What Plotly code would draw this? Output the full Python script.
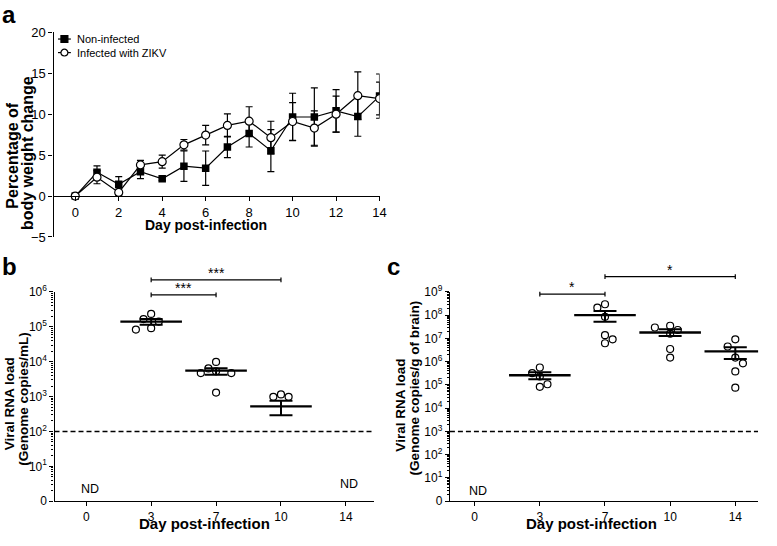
import numpy as np
import plotly.graph_objects as go

W, H = 777, 546
FONT = "Liberation Sans, Arial, sans-serif"

# ---------------- Panel a data: body weight change (mean +/- SEM) ----------------
days_a = list(range(15))
noninf_mean = [0, 2.9, 1.43, 2.97, 2.1, 3.65, 3.4, 5.98, 7.64, 5.54, 9.65, 9.65, 10.4, 9.7, 12.2]
noninf_sem = [0, 0.78, 0.95, 0.85, 0.2, 1.85, 2.1, 1.3, 1.65, 2.56, 2.9, 3.55, 2.6, 2.4, 2.7]
inf_mean = [0, 2.3, 0.44, 3.8, 4.2, 6.25, 7.44, 8.62, 9.14, 7.13, 9.1, 8.3, 10.0, 12.25, 11.9]
inf_sem = [0, 0.8, 0.4, 0.55, 0.8, 0.65, 1.2, 1.4, 1.76, 2.0, 2.3, 2.1, 2.2, 2.9, 2.0]
ticks_a_x = [0, 2, 4, 6, 8, 10, 12, 14]
ticks_a_y = [-5, 0, 5, 10, 15, 20]

# ---------------- Panel b data: serum viral RNA (genome copies/mL) ----------------
days_b = ["0", "3", "7", "10", "14"]
b_points = {
    "3": [2.34e5, 1.66e5, 1.41e5, 9.1e4, 8.3e4],
    "7": [9.8e3, 6.4e3, 5.3e3, 4.7e3, 4.7e3, 1.3e3],
    "10": [1.15e3, 9.8e2, 9.8e2],
}
b_mean = {"3": 1.4e5, "7": 5.5e3, "10": 525}
b_sem_lo = {"3": 1.15e5, "7": 4.2e3, "10": 290}
b_sem_hi = {"3": 1.66e5, "7": 6.5e3, "10": 760}
b_limit = 1e2
b_nd = ["0", "14"]
b_sig = [("3", "7", "***"), ("3", "10", "***")]

# ---------------- Panel c data: brain viral RNA (genome copies/g) ----------------
days_c = ["0", "3", "7", "10", "14"]
c_points = {
    "3": [5.6e5, 3.2e5, 2.3e5, 1.07e5, 8.3e4],
    "7": [2.95e8, 2.1e8, 8.5e7, 1.38e7, 9.1e6, 6.2e6],
    "10": [3.5e7, 2.95e7, 2.3e7, 1.6e7, 3.5e6, 1.5e6],
    "14": [9.1e6, 4.5e6, 1.5e6, 8.5e5, 3.8e5, 7.6e4],
}
c_mean = {"3": 2.6e5, "7": 1.0e8, "10": 1.8e7, "14": 2.75e6}
c_sem_lo = {"3": 1.75e5, "7": 5.2e7, "10": 1.26e7, "14": 1.3e6}
c_sem_hi = {"3": 3.5e5, "7": 1.5e8, "10": 2.5e7, "14": 4.2e6}
c_limit = 1e3
c_nd = ["0"]
c_sig = [("3", "7", "*"), ("7", "14", "*")]


def X(p):
    return p / W


def Y(p):
    return 1 - p / H


# layout geometry (pixels)
A_X = (54, 383); A_Y = (24, 235.3)
B_X = (55, 377); B_Y = (292, 508)
C_X = (454, 765); C_Y = (292, 508)
B_XR = [-0.489, 4.427]
C_XR = [-0.38, 4.35]


def beeswarm(values, px_per_dec, px_per_cat, step=7.7, min_dist=8.0):
    logs = np.log10(values)
    order = np.argsort(-logs, kind="stable")
    placed = []
    offs = np.zeros(len(values))
    for i in order:
        y = logs[i] * px_per_dec
        left = sum(1 for s, _ in placed if s < 0)
        right = sum(1 for s, _ in placed if s > 0)
        cands = [0]
        for k in range(1, 8):
            cands += [-k, k] if left <= right else [k, -k]
        chosen = 0
        for s in cands:
            if all(((s - s2) * step) ** 2 + (y - y2) ** 2 >= min_dist ** 2 for s2, y2 in placed):
                chosen = s
                break
        placed.append((chosen, y))
        offs[i] = chosen * step / px_per_cat
    return offs


fig = go.Figure()

# ---- panel a traces
fig.add_trace(go.Scatter(
    x=days_a, y=noninf_mean, mode="lines+markers", name="Non-infected",
    line=dict(color="black", width=1.2),
    marker=dict(symbol="square", size=7.5, color="black"),
    error_y=dict(type="data", array=noninf_sem, color="black", thickness=1.2, width=3.5),
    xaxis="x", yaxis="y", showlegend=False))
fig.add_trace(go.Scatter(
    x=days_a, y=inf_mean, mode="lines+markers", name="Infected with ZIKV",
    line=dict(color="black", width=1.2),
    marker=dict(symbol="circle", size=8, color="white", line=dict(color="black", width=1.2)),
    error_y=dict(type="data", array=inf_sem, color="black", thickness=1.2, width=3.5),
    xaxis="x", yaxis="y", showlegend=False))


def dot_panel(days, points, mean, lo, hi, limit, xr, xax, yax, pxdec, pxcat):
    idx = {d: i for i, d in enumerate(days)}
    # detection limit
    fig.add_trace(go.Scatter(x=xr, y=[limit, limit], mode="lines",
                             line=dict(color="black", width=1.5, dash="5px,3px"),
                             xaxis=xax, yaxis=yax, showlegend=False, hoverinfo="skip"))
    for d, vals in points.items():
        offs = beeswarm(vals, pxdec, pxcat)
        fig.add_trace(go.Scatter(
            x=[idx[d] + o for o in offs], y=vals, mode="markers",
            marker=dict(symbol="circle", size=7, color="white", line=dict(color="black", width=1.2)),
            xaxis=xax, yaxis=yax, showlegend=False))
    gs = list(mean.keys())
    fig.add_trace(go.Scatter(
        x=[idx[g] for g in gs], y=[mean[g] for g in gs], mode="markers",
        marker=dict(symbol="line-ew", size=44, line=dict(color="black", width=2.3)),
        error_y=dict(type="data", symmetric=False,
                     array=[hi[g] - mean[g] for g in gs],
                     arrayminus=[mean[g] - lo[g] for g in gs],
                     color="black", thickness=2, width=11.5),
        xaxis=xax, yaxis=yax, showlegend=False))


dot_panel(days_b, b_points, b_mean, b_sem_lo, b_sem_hi, b_limit, B_XR, "x2", "y2", 36.0, 65.5)
dot_panel(days_c, c_points, c_mean, c_sem_lo, c_sem_hi, c_limit, C_XR, "x3", "y3", 24.0, 65.75)

axis_common = dict(showline=True, linecolor="black", linewidth=1.3, ticks="outside",
                   ticklen=4, tickwidth=1.2, tickcolor="black", showgrid=False,
                   zeroline=False, tickfont=dict(family=FONT, size=12, color="black"))


def logticks(n):
    vals = [10 ** k for k in range(n + 1)]
    text = ["0"] + ["10<sup>%d</sup>" % k for k in range(1, n + 1)]
    return vals, text


bv, bt = logticks(6)
cv, ct = logticks(9)
minor = dict(ticks="outside", ticklen=2, tickcolor="black", tickwidth=0.8, dtick="D1", showgrid=False)

fig.update_layout(
    width=W, height=H, margin=dict(l=0, r=0, t=0, b=0),
    paper_bgcolor="white", plot_bgcolor="white",
    font=dict(family=FONT, color="black"),
    showlegend=False,
    xaxis=dict(**{**axis_common, "tickfont": dict(family=FONT, size=13, color="black")},
               domain=[X(A_X[0]), X(A_X[1])], range=[-1, 14], anchor="free",
               position=Y(193), tickvals=ticks_a_x),
    yaxis=dict(**{**axis_common, "tickfont": dict(family=FONT, size=13, color="black")},
               domain=[Y(A_Y[1]), Y(A_Y[0])], range=[-5, 20], anchor="x",
               tickvals=ticks_a_y),
    xaxis2=dict(**axis_common, domain=[X(B_X[0]), X(B_X[1])], range=B_XR, anchor="y2",
                tickvals=list(range(len(days_b))), ticktext=days_b),
    yaxis2=dict(**axis_common, type="log", domain=[Y(B_Y[1]), Y(B_Y[0])], range=[0, 6],
                anchor="x2", tickvals=bv, ticktext=bt, minor=minor),
    xaxis3=dict(**axis_common, domain=[X(C_X[0]), X(C_X[1])], range=C_XR, anchor="y3",
                tickvals=list(range(len(days_c))), ticktext=days_c),
    yaxis3=dict(**axis_common, type="log", domain=[Y(C_Y[1]), Y(C_Y[0])], range=[0, 9],
                anchor="x3", tickvals=cv, ticktext=ct, minor=minor),
)

ann = []
shapes = []


def text(x, y, s, size, bold=False, angle=0, xanchor="center", xref="paper"):
    ann.append(dict(x=x if xref != "paper" else X(x), y=Y(y), xref=xref, yref="paper",
                    text=("<b>%s</b>" % s) if bold else s, showarrow=False,
                    textangle=angle, xanchor=xanchor, yanchor="middle",
                    font=dict(family=FONT, size=size, color="black")))


# panel letters
text(0, 6, "a", 24, bold=True, xanchor="left")
text(0, 266, "b", 24, bold=True, xanchor="left")
text(389, 266, "c", 24, bold=True, xanchor="left")

# axis titles
text(12.5, 151, "Percentage of", 16, bold=True, angle=-90)
text(28, 149, "body weight change", 16, bold=True, angle=-90)
text(207.5, 223, "Day post-infection", 14, bold=True)
text(9, 407, "Viral RNA load", 13.5, bold=True, angle=-90)
text(23.5, 402, "(Genome copies/mL)", 13.5, bold=True, angle=-90)
text(206, 531, "Day post-infection", 15, bold=True)
text(404, 409, "Viral RNA load", 13.5, bold=True, angle=-90)
text(418.5, 391, "(Genome copies/g of brain)", 13.5, bold=True, angle=-90)
text(597, 531, "Day post-infection", 15, bold=True)

# legend (panel a)
leg = [("Non-infected", "square", "black", 31), ("Infected with ZIKV", "circle", "white", 45)]
for name, sym, fill, yy in leg:
    shapes.append(dict(type="line", xref="paper", yref="paper", x0=X(58.5), x1=X(71.5),
                       y0=Y(yy), y1=Y(yy), line=dict(color="black", width=1.2)))
    shapes.append(dict(type="rect" if sym == "square" else "circle", xref="paper", yref="paper",
                       x0=X(61.5), x1=X(68.5), y0=Y(yy + 3.5), y1=Y(yy - 3.5),
                       fillcolor=fill, line=dict(color="black", width=1.2)))
    text(76, yy, name, 11, xanchor="left")

# ND labels
idx_b = {d: i for i, d in enumerate(days_b)}
idx_c = {d: i for i, d in enumerate(days_c)}
text(idx_b["0"] + 0.06, 495, "ND", 12.5, xref="x2")
text(idx_b["14"] + 0.05, 490.5, "ND", 12.5, xref="x2")
text(idx_c["0"] + 0.05, 497, "ND", 12.5, xref="x3")


# significance brackets
def bracket(idx, xref, a, b, ypx, label):
    shapes.append(dict(type="line", xref=xref, yref="paper", x0=idx[a], x1=idx[b],
                       y0=Y(ypx), y1=Y(ypx), line=dict(color="black", width=1.2)))
    for e in (a, b):
        shapes.append(dict(type="line", xref=xref, yref="paper", x0=idx[e], x1=idx[e],
                           y0=Y(ypx - 2.5), y1=Y(ypx + 2.5), line=dict(color="black", width=1.2)))
    text((idx[a] + idx[b]) / 2, ypx - 7, label, 14, xref=xref)


b_levels = [295, 279.5]
for (a, bb, lab), yy in zip(b_sig, b_levels):
    bracket(idx_b, "x2", a, bb, yy, lab)
c_levels = [294.3, 276.3]
for (a, bb, lab), yy in zip(c_sig, c_levels):
    bracket(idx_c, "x3", a, bb, yy, lab)

fig.update_layout(annotations=ann, shapes=shapes)
fig.write_html("out.html", config={"displayModeBar": False},
               post_script="document.body.style.margin='0px';")
